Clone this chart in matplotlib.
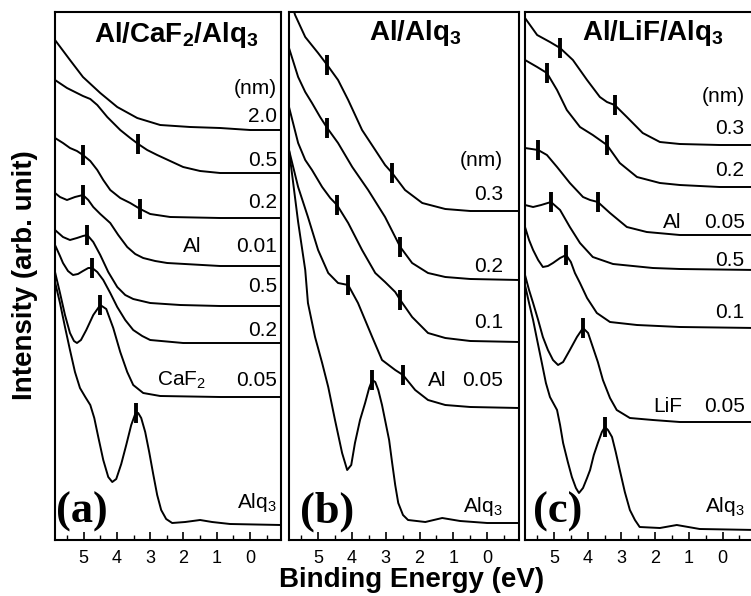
import matplotlib
matplotlib.use('Agg')
import matplotlib.pyplot as plt
from matplotlib.ticker import MultipleLocator

plt.rcParams['font.family'] = ['Liberation Sans', 'DejaVu Sans']
plt.rcParams['mathtext.fontset'] = 'custom'
plt.rcParams['mathtext.rm'] = 'Liberation Sans'
plt.rcParams['mathtext.bf'] = 'Liberation Sans:bold'

# ---- panel (a) Al/CaF2/Alq3 : binding energy (eV), intensity (arb.)
a1_e = [5.86, 5.41, 5.02, 4.50, 3.99, 3.39, 2.70, 1.80, 0.90, 0, -0.93]
a1_i = [500, 480, 463, 447, 433, 422, 415, 413, 412, 410, 410]
a2_e = [5.86, 5.50, 5.02, 4.80, 4.59, 4.29, 3.90, 3.60, 3.36, 3.09, 2.79, 2.40, 2.01, 1.50, 0.90, -0.93]
a2_i = [460, 452, 444, 441, 435, 423, 410, 402, 396, 390, 385, 379, 373, 369, 367, 367]
a3_e = [5.86, 5.62, 5.41, 5.20, 5.02, 4.80, 4.59, 4.41, 4.20, 3.90, 3.60, 3.30, 3.00, 2.40, 0.90, -0.93]
a3_i = [402, 397, 392, 389, 385, 379, 370, 360, 350, 342, 337, 331, 326, 323, 322, 322]
a4_e = [5.86, 5.71, 5.50, 5.26, 5.02, 4.86, 4.71, 4.50, 4.20, 3.96, 3.69, 3.45, 3.21, 2.85, 2.49, 0.90, -0.93]
a4_i = [347, 343, 340, 343, 345, 340, 333, 326, 317, 305, 293, 286, 282, 279, 277, 274, 274]
a5_e = [5.86, 5.62, 5.41, 5.20, 5.02, 4.89, 4.71, 4.50, 4.26, 3.99, 3.75, 3.51, 3.00, 2.10, 0.90, -0.93]
a5_i = [310, 303, 300, 302, 304, 305, 298, 285, 268, 253, 245, 241, 237, 235, 234, 234]
a6_e = [5.86, 5.71, 5.62, 5.47, 5.32, 5.17, 5.02, 4.86, 4.74, 4.59, 4.41, 4.20, 3.99, 3.75, 3.51, 3.24, 3.00, 2.01, 0.90, -0.93]
a6_i = [295, 284, 277, 269, 265, 266, 269, 272, 272, 268, 260, 247, 233, 220, 210, 204, 200, 197, 197, 197]
a7_e = [5.86, 5.71, 5.56, 5.41, 5.29, 5.20, 5.08, 4.92, 4.71, 4.50, 4.32, 4.11, 3.90, 3.69, 3.51, 3.21, 2.70, 0.90, -0.93]
a7_i = [268, 247, 225, 207, 199, 197, 200, 210, 225, 235, 231, 212, 188, 168, 155, 147, 144, 143, 143]
a8_e = [5.86, 5.71, 5.56, 5.41, 5.26, 5.11, 4.95, 4.80, 4.68, 4.56, 4.41, 4.26, 4.14, 4.02, 3.87, 3.72, 3.57,
        3.45, 3.36, 3.27, 3.15, 3.03, 2.91, 2.79, 2.67, 2.52, 2.34, 1.95, 1.50, 1.14, 0.60, -0.93]
a8_i = [258, 237, 213, 190, 168, 152, 143, 135, 122, 103, 80, 63, 58, 61, 76, 95, 115,
        126, 127, 122, 108, 88, 66, 45, 30, 21, 17, 18, 20, 18, 16, 15]
a_tick_e = [3.36, 5.02, 3.30, 5.02, 4.89, 4.74, 4.50, 3.42]
a_tick_i = [396, 385, 331, 345, 305, 272, 235, 127]

# ---- panel (b) Al/Alq3
b1_e = [5.86, 5.68, 5.38, 5.00, 4.73, 4.41, 4.11, 3.70, 3.31, 3.02, 2.81, 2.43, 1.92, 1.24, 0.50, -0.95]
b1_i = [545, 525, 503, 487, 475, 460, 440, 410, 390, 375, 367, 350, 337, 331, 329, 329]
b2_e = [5.86, 5.59, 5.38, 5.18, 4.94, 4.73, 4.41, 3.99, 3.52, 3.02, 2.57, 2.22, 1.75, 1.24, 0.50, -0.95]
b2_i = [492, 463, 448, 437, 423, 412, 397, 373, 350, 323, 293, 277, 267, 263, 261, 260]
b3_e = [5.86, 5.59, 5.38, 5.18, 4.88, 4.64, 4.44, 4.11, 3.70, 3.31, 3.02, 2.72, 2.57, 2.22, 1.75, 1.24, 0.50, -0.95]
b3_i = [433, 397, 380, 370, 353, 342, 335, 317, 290, 267, 258, 248, 240, 223, 207, 202, 199, 198]
b4_e = [5.86, 5.59, 5.30, 5.00, 4.70, 4.41, 4.11, 3.82, 3.40, 3.11, 2.72, 2.49, 2.13, 1.75, 1.24, 0.50, -0.95]
b4_i = [390, 353, 323, 290, 267, 257, 255, 237, 203, 180, 170, 165, 150, 140, 135, 133, 132]
b5_e = [5.86, 5.59, 5.38, 5.30, 5.09, 4.88, 4.70, 4.50, 4.29, 4.14, 4.02, 3.91, 3.76, 3.61, 3.49, 3.40,
        3.31, 3.22, 3.11, 3.02, 2.90, 2.81, 2.72, 2.63, 2.49, 2.34, 1.83, 1.33, 0.80, 0, -0.95]
b5_i = [390, 318, 270, 237, 203, 177, 153, 120, 87, 70, 75, 97, 120, 137, 152, 160,
        158, 150, 135, 120, 100, 77, 55, 37, 25, 20, 18, 22, 19, 17, 17]
b_tick_e = [4.73, 2.81, 4.73, 2.57, 4.44, 2.57, 4.11, 2.49, 3.40]
b_tick_i = [475, 367, 412, 293, 335, 240, 255, 165, 160]

# ---- panel (c) Al/LiF/Alq3
c1_e = [5.86, 5.50, 5.12, 4.82, 4.44, 4.02, 3.64, 3.43, 3.20, 2.84, 2.37, 1.86, 1.27, 0.09, -1.0]
c1_i = [522, 505, 498, 492, 480, 460, 443, 438, 435, 423, 407, 398, 396, 395, 395]
c2_e = [5.86, 5.50, 5.21, 4.91, 4.62, 4.23, 3.85, 3.64, 3.43, 3.05, 2.54, 1.86, 1.27, 0.09, -1.0]
c2_i = [480, 473, 467, 450, 430, 413, 405, 400, 395, 377, 363, 357, 355, 353, 353]
c3_e = [5.86, 5.47, 5.21, 4.91, 4.53, 4.14, 3.93, 3.70, 3.34, 2.84, 2.25, 1.27, -1.0]
c3_i = [392, 390, 385, 373, 357, 343, 340, 338, 327, 313, 308, 305, 305]
c4_e = [5.86, 5.62, 5.38, 5.09, 4.82, 4.53, 4.23, 3.85, 3.25, 2.07, 1.27, -1.0]
c4_i = [335, 333, 335, 338, 330, 313, 297, 283, 276, 272, 271, 270]
c5_e = [5.86, 5.74, 5.62, 5.47, 5.33, 5.18, 5.03, 4.82, 4.64, 4.50, 4.38, 4.23, 4.02, 3.73, 3.34, 2.54, 1.27, -1.0]
c5_i = [313, 300, 290, 280, 273, 274, 277, 282, 285, 278, 267, 257, 242, 227, 218, 215, 213, 212]
c6_e = [5.86, 5.74, 5.62, 5.47, 5.33, 5.18, 5.03, 4.88, 4.73, 4.53, 4.32, 4.14, 3.99, 3.85, 3.70, 3.55,
        3.34, 3.14, 2.75, 2.07, 1.27, -1.0]
c6_i = [265, 250, 237, 220, 203, 190, 180, 175, 178, 190, 203, 212, 207, 193, 178, 160,
        142, 130, 122, 120, 118, 118]
c7_e = [5.86, 5.74, 5.62, 5.50, 5.36, 5.24, 5.12, 4.91, 4.82, 4.73, 4.59, 4.47, 4.35, 4.26, 4.14, 4.02, 3.93,
        3.82, 3.70, 3.58, 3.49, 3.40, 3.28, 3.17, 3.05, 2.90, 2.75, 2.60, 2.46, 1.86, 1.36, 0.68, -1.0]
c7_i = [255, 237, 220, 200, 177, 157, 143, 130, 115, 97, 78, 63, 52, 47, 52, 62, 70,
        85, 97, 108, 113, 110, 103, 88, 70, 48, 30, 20, 13, 12, 15, 11, 10]
c_tick_e = [4.82, 3.20, 5.21, 3.43, 5.47, 3.70, 5.09, 4.64, 4.14, 3.49]
c_tick_i = [492, 435, 467, 395, 390, 338, 338, 285, 212, 113]

a_curves = [(a1_e, a1_i), (a2_e, a2_i), (a3_e, a3_i), (a4_e, a4_i),
            (a5_e, a5_i), (a6_e, a6_i), (a7_e, a7_i), (a8_e, a8_i)]
b_curves = [(b1_e, b1_i), (b2_e, b2_i), (b3_e, b3_i), (b4_e, b4_i), (b5_e, b5_i)]
c_curves = [(c1_e, c1_i), (c2_e, c2_i), (c3_e, c3_i), (c4_e, c4_i),
            (c5_e, c5_i), (c6_e, c6_i), (c7_e, c7_i)]

# thickness labels: (text, intensity level)
a_labels = [('(nm)', 452), ('2.0', 423), ('0.5', 380), ('0.2', 338), ('0.01', 293),
            ('0.5', 253), ('0.2', 210), ('0.05', 160), ('Alq$_3$', 37)]
b_labels = [('(nm)', 380), ('0.3', 345), ('0.2', 273), ('0.1', 217), ('0.05', 160), ('Alq$_3$', 33)]
c_labels = [('(nm)', 443), ('0.3', 412), ('0.2', 370), ('0.05', 318), ('0.5', 280),
            ('0.1', 227), ('0.05', 133), ('Alq$_3$', 33)]

fig = plt.figure(figsize=(7.51, 5.96), dpi=100)
W, H = 751.0, 596.0
bot = (H - 540) / H
hgt = 528 / H
ax_a = fig.add_axes([55 / W, bot, 226 / W, hgt])
ax_b = fig.add_axes([289 / W, bot, 230 / W, hgt])
ax_c = fig.add_axes([525 / W, bot, 229 / W, hgt])

for ax, xr in [(ax_a, -0.93), (ax_b, -0.94), (ax_c, -0.93)]:
    ax.set_xlim(5.86, xr)
    ax.set_ylim(0, 528)
    ax.set_yticks([])
    ax.xaxis.set_major_locator(MultipleLocator(1))
    ax.xaxis.set_minor_locator(MultipleLocator(0.5))
    ax.tick_params(axis='x', which='major', direction='in', length=6, width=1.2,
                   labelsize=13, pad=7)
    ax.tick_params(axis='x', which='minor', direction='in', length=3.5, width=1.0)
    for s in ax.spines.values():
        s.set_linewidth(1.5)

for ax, curves, te, ti in [(ax_a, a_curves, a_tick_e, a_tick_i),
                           (ax_b, b_curves, b_tick_e, b_tick_i),
                           (ax_c, c_curves, c_tick_e, c_tick_i)]:
    for e, i in curves:
        ax.plot(e, i, color='black', lw=1.4, solid_joinstyle='round')
    ax.plot(te, ti, '|', color='black', ms=15, mew=2.8)

# right-hand thickness labels
for ax, labels, xr in [(ax_a, a_labels, -0.81), (ax_b, b_labels, -0.47), (ax_c, c_labels, -0.65)]:
    for txt, y in labels:
        ax.text(xr, y, txt, ha='right', va='center', fontsize=15)

ax_a.text(1.74, 293, 'Al', ha='center', va='center', fontsize=15)
ax_a.text(2.07, 160, 'CaF$_2$', ha='center', va='center', fontsize=15)
ax_b.text(1.48, 160, 'Al', ha='center', va='center', fontsize=15)
ax_c.text(1.51, 318, 'Al', ha='center', va='center', fontsize=15)
ax_c.text(1.63, 133, 'LiF', ha='center', va='center', fontsize=15)

# panel titles
ax_a.text(2.22, 505, r'Al/CaF$_\mathbf{2}$/Alq$_\mathbf{3}$', ha='center', va='center',
          fontsize=20, fontweight='bold')
ax_b.text(2.13, 507, r'Al/Alq$_\mathbf{3}$', ha='center', va='center', fontsize=20, fontweight='bold')
ax_c.text(2.07, 507, r'Al/LiF/Alq$_\mathbf{3}$', ha='center', va='center', fontsize=20, fontweight='bold')

# panel letters
for ax, lab, x in [(ax_a, '(a)', 5.05), (ax_b, '(b)', 4.73), (ax_c, '(c)', 4.88)]:
    ax.text(x, 28, lab, ha='center', va='center', fontsize=32, fontweight='bold',
            family='Liberation Serif')

fig.text(412 / W, 1 - 580 / H, 'Binding Energy (eV)', ha='center', va='center',
         fontsize=20, fontweight='bold')
fig.text(25 / W, 1 - 275 / H, 'Intensity (arb. unit)', ha='center', va='center',
         rotation=90, fontsize=20, fontweight='bold')

fig.savefig('out.png', dpi=100)
